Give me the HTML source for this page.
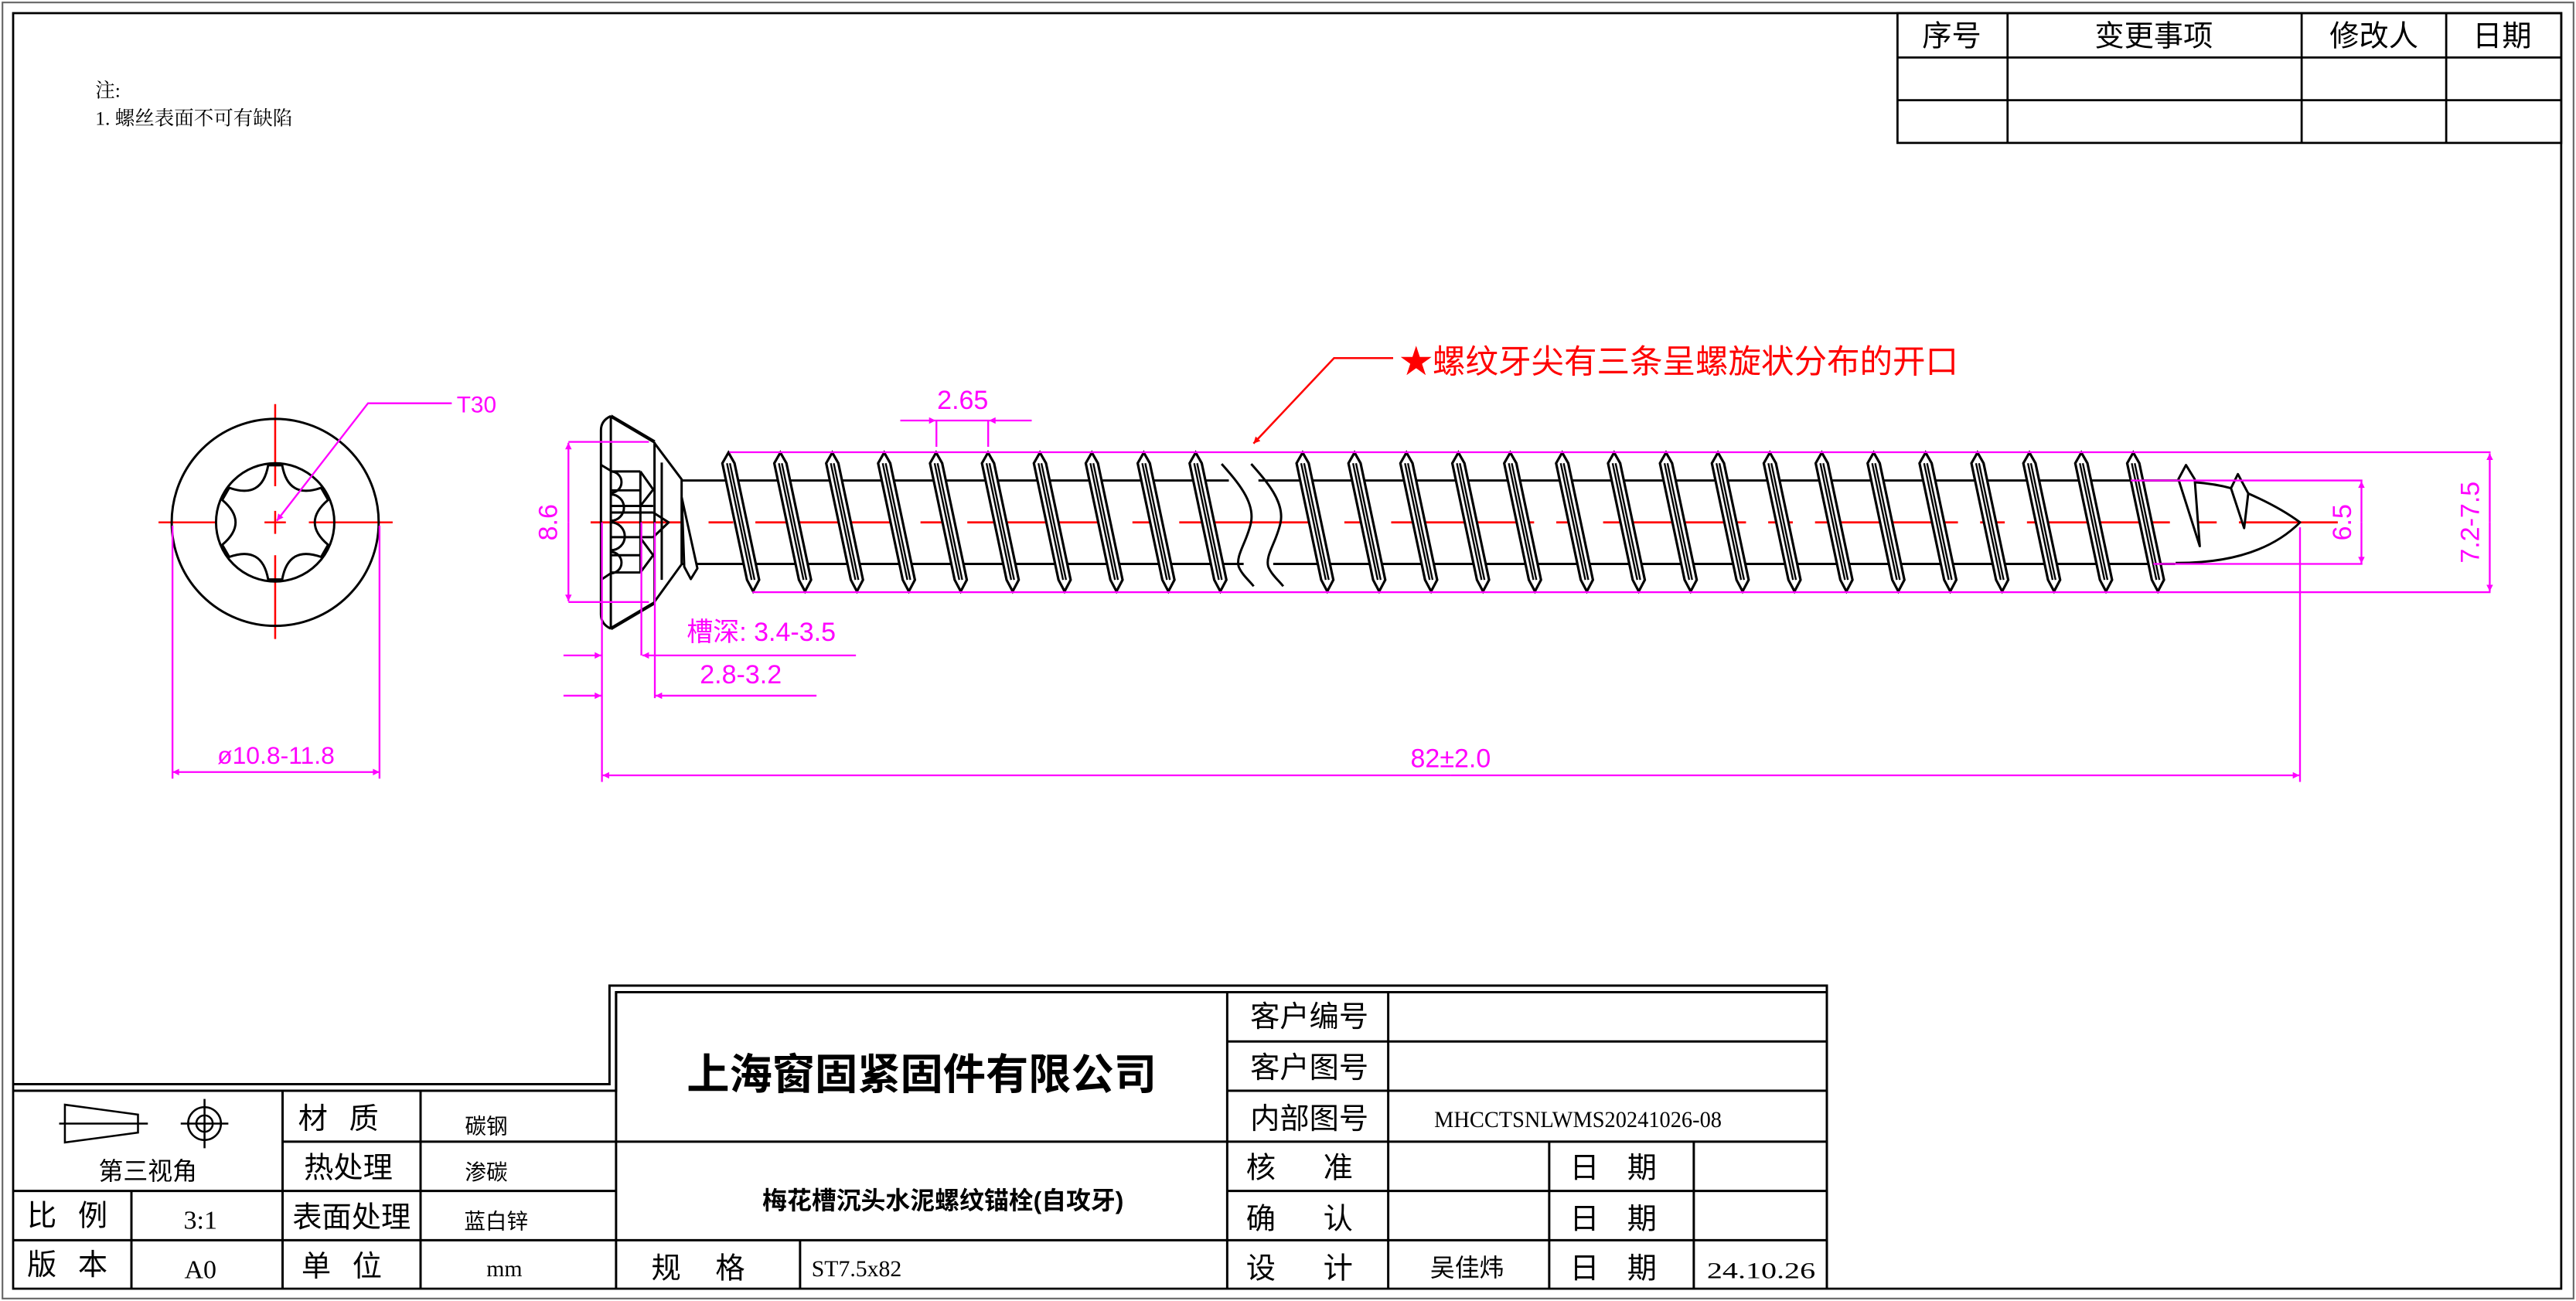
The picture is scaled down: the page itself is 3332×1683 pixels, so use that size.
<!DOCTYPE html>
<html><head><meta charset="utf-8"><style>
html,body{margin:0;padding:0;background:#fff;}
svg{display:block;}
text{font-family:"Liberation Sans","Noto Sans CJK SC",sans-serif;}
.cj{font-family:"Liberation Serif","Noto Serif CJK SC","Noto Sans CJK SC",serif;}
.m{fill:#f0f;font-family:"Liberation Sans","Noto Sans CJK SC",sans-serif;}
</style></head><body>
<svg width="3332" height="1683" viewBox="0 0 1568 792" preserveAspectRatio="none" xmlns="http://www.w3.org/2000/svg">
<defs>
<g id="th">
<polygon points="0,275.5 3.7,282 18.7,353 15,360 11.3,353 -3.7,282" fill="#fff" stroke="#000" stroke-width="1.5"/>
<line x1="-0.9" y1="282" x2="14.1" y2="353" stroke="#000" stroke-width="1.1"/>
<line x1="0.9" y1="282" x2="15.9" y2="353" stroke="#000" stroke-width="1.1"/>
</g>
<marker id="ar" viewBox="0 0 10 10" refX="10" refY="5" markerWidth="10" markerHeight="4" markerUnits="userSpaceOnUse" orient="auto"><path d="M0,0 L10,5 L0,10 Z" fill="#f0f"/></marker>
<marker id="arr" viewBox="0 0 10 10" refX="10" refY="5" markerWidth="10" markerHeight="4" markerUnits="userSpaceOnUse" orient="auto"><path d="M0,0 L10,5 L0,10 Z" fill="#f00"/></marker>
</defs>
<rect x="0" y="0" width="1568" height="792" fill="#fff"/>
<rect x="1.5" y="1.5" width="1565" height="789" fill="none" stroke="#666" stroke-width="1"/>
<rect x="8" y="8" width="1551" height="776.5" fill="none" stroke="#000" stroke-width="1.3"/>

<g stroke="#000" stroke-width="1.3" fill="none">
<rect x="1155" y="8" width="404" height="79"/>
<line x1="1155" y1="35" x2="1559" y2="35"/>
<line x1="1155" y1="61" x2="1559" y2="61"/>
<line x1="1222" y1="8" x2="1222" y2="87"/>
<line x1="1401" y1="8" x2="1401" y2="87"/>
<line x1="1489" y1="8" x2="1489" y2="87"/>
</g>
<g font-size="18" text-anchor="middle">
<text x="1188" y="28">序号</text><text x="1311" y="28">变更事项</text><text x="1445" y="28">修改人</text><text x="1523" y="28">日期</text>
</g>

<text x="58" y="59" font-size="12" class="cj">注:</text>
<text x="58" y="76" font-size="12" class="cj">1. 螺丝表面不可有缺陷</text>

<g stroke="#000" stroke-width="1.4" fill="none">
<polyline points="8,660 371,660 371,600 1112,600 1112,784"/>
<polyline points="8,664 375,664 375,604 1112,604"/>
<line x1="375" y1="604" x2="375" y2="784"/>
<line x1="375" y1="695" x2="747" y2="695"/>
<line x1="375" y1="755" x2="1112" y2="755"/>
<line x1="747" y1="604" x2="747" y2="784"/>
<line x1="845" y1="604" x2="845" y2="784"/>
<line x1="747" y1="634" x2="1112" y2="634"/>
<line x1="747" y1="664" x2="1112" y2="664"/>
<line x1="747" y1="695" x2="1112" y2="695"/>
<line x1="747" y1="725" x2="1112" y2="725"/>
<line x1="943" y1="695" x2="943" y2="784"/>
<line x1="1031" y1="695" x2="1031" y2="784"/>
<line x1="487" y1="755" x2="487" y2="784"/>
<line x1="8" y1="725" x2="375" y2="725"/>
<line x1="172" y1="695" x2="375" y2="695"/>
<line x1="8" y1="755" x2="375" y2="755"/>
<line x1="172" y1="664" x2="172" y2="784"/>
<line x1="256" y1="664" x2="256" y2="784"/>
<line x1="80" y1="725" x2="80" y2="784"/>
</g>
<g stroke="#000" stroke-width="1.2" fill="none">
<polygon points="39.5,672.5 84,678.5 84,689.5 39.5,695.5"/>
<line x1="36" y1="684" x2="90" y2="684"/>
<circle cx="124.5" cy="684" r="10"/>
<circle cx="124.5" cy="684" r="5"/>
<line x1="110" y1="684" x2="139" y2="684"/>
<line x1="124.5" y1="669" x2="124.5" y2="699"/>
</g>
<text x="90" y="718" font-size="15" text-anchor="middle">第三视角</text>
<g font-size="18" text-anchor="middle">
<text x="208" y="687" letter-spacing="4">材 质</text>
<text x="212" y="717">热处理</text>
<text x="214" y="747">表面处理</text>
<text x="210" y="777" letter-spacing="4">单 位</text>
<text x="43" y="746" letter-spacing="4">比 例</text>
<text x="43" y="776" letter-spacing="4">版 本</text>
</g>
<g font-size="13" text-anchor="middle">
<text x="296" y="690">碳钢</text>
<text x="296" y="718">渗碳</text>
<text x="302" y="748">蓝白锌</text>
</g>
<g class="cj" font-size="16" text-anchor="middle">
<text x="122" y="748" class="cj">3:1</text>
<text x="122" y="778" class="cj">A0</text>
<text x="307" y="777" class="cj" font-size="14">mm</text>
</g>
<text x="561" y="663" font-size="26" font-weight="bold" text-anchor="middle">上海窗固紧固件有限公司</text>
<text x="574" y="736" font-size="15" font-weight="bold" text-anchor="middle">梅花槽沉头水泥螺纹锚栓(自攻牙)</text>
<text x="429" y="778" font-size="18" text-anchor="middle" letter-spacing="8">规 格</text>
<text x="494" y="777" font-size="14" class="cj">ST7.5x82</text>
<g font-size="18" text-anchor="middle">
<text x="797" y="625">客户编号</text>
<text x="797" y="656">客户图号</text>
<text x="797" y="687">内部图号</text>
<text x="797" y="717" letter-spacing="12">核 准</text>
<text x="797" y="748" letter-spacing="12">确 认</text>
<text x="797" y="778" letter-spacing="12">设 计</text>
<text x="985" y="717" letter-spacing="6">日 期</text>
<text x="985" y="748" letter-spacing="6">日 期</text>
<text x="985" y="778" letter-spacing="6">日 期</text>
</g>
<text x="873" y="686" font-size="14" class="cj" textLength="175" lengthAdjust="spacingAndGlyphs">MHCCTSNLWMS20241026-08</text>
<text x="893" y="777" font-size="15" text-anchor="middle">吴佳炜</text>
<text x="1039" y="778" font-size="14" class="cj" textLength="66" lengthAdjust="spacingAndGlyphs">24.10.26</text>

<g stroke="#f00" stroke-width="1.2">
<line x1="96.5" y1="318" x2="131" y2="318"/>
<line x1="161" y1="318" x2="174" y2="318"/>
<line x1="188" y1="318" x2="239" y2="318"/>
<line x1="167.5" y1="246" x2="167.5" y2="296"/>
<line x1="167.5" y1="311" x2="167.5" y2="325"/>
<line x1="167.5" y1="338" x2="167.5" y2="389"/>
</g>
<g stroke="#000" stroke-width="1.4" fill="none">
<circle cx="167.5" cy="318" r="63"/>
<circle cx="167.5" cy="318" r="36"/>
<path transform="translate(167.5,318)" d="M-4.27,-34.74 L4.27,-34.74 Q8,-13.86 27.95,-21.06 L32.22,-13.67 Q16,0 32.22,13.67 L27.95,21.06 Q8,13.86 4.27,34.74 L-4.27,34.74 Q-8,13.86 -27.95,21.06 L-32.22,13.67 Q-16,0 -32.22,-13.67 L-27.95,-21.06 Q-8,-13.86 -4.27,-34.74 Z"/>
</g>
<g stroke="#f0f" stroke-width="1.1" fill="none">
<polyline points="275,245.5 224,245.5 168.5,317" marker-end="url(#ar)"/>
<line x1="105" y1="320" x2="105" y2="474"/>
<line x1="231" y1="320" x2="231" y2="474"/>
<line x1="168" y1="470" x2="105" y2="470" marker-end="url(#ar)"/>
<line x1="168" y1="470" x2="231" y2="470" marker-end="url(#ar)"/>
</g>
<text x="278" y="251" class="m" font-size="14">T30</text>
<text x="168" y="465" class="m" font-size="15" text-anchor="middle">ø10.8-11.8</text>

<line x1="359.5" y1="318" x2="1423" y2="318" stroke="#f00" stroke-width="1.3" stroke-dasharray="87 13.5 15 13.5" stroke-dashoffset="28.7"/>
<g stroke="#000" stroke-width="1.4" fill="none" stroke-linejoin="round">
<path d="M371.8,253.3 Q365.8,256 365.8,262 L365.8,374 Q365.8,380 371.8,382.7"/>
<line x1="371.8" y1="253.3" x2="371.8" y2="382.7"/>
<line x1="371.8" y1="253.3" x2="398.4" y2="269" stroke-width="2"/>
<line x1="371.8" y1="382.7" x2="398.4" y2="367" stroke-width="2"/>
<line x1="398.4" y1="269" x2="398.4" y2="367"/>
<line x1="402.8" y1="281.6" x2="402.8" y2="353"/>
<polyline points="398.4,269.8 414.9,291.8 414.9,343.5 398.4,366.3"/>
<line x1="365.8" y1="283" x2="372.5" y2="287"/>
<line x1="365.8" y1="353" x2="372.5" y2="348.5"/>
<line x1="371.8" y1="287" x2="389.8" y2="287"/>
<line x1="371.8" y1="298.5" x2="389.8" y2="298.5"/>
<line x1="371.8" y1="308" x2="397.6" y2="308"/>
<line x1="371.8" y1="312" x2="397.6" y2="312"/>
<line x1="371.8" y1="327" x2="397.6" y2="327"/>
<line x1="371.8" y1="338" x2="389.8" y2="338"/>
<line x1="371.8" y1="348.5" x2="389.8" y2="348.5"/>
<line x1="389.8" y1="287" x2="389.8" y2="348.5"/>
<polyline points="389.8,287 397.6,298 389.8,308"/>
<polyline points="397.6,312 407,318 397.6,327"/>
<polyline points="389.8,327.5 397.6,338 389.8,348.5"/>
<path d="M371.8,287 A6,6 0 0 1 371.8,300 M371.8,301 A8,8 0 0 1 371.8,317 M371.8,318 A8,8 0 0 1 371.8,335 M371.8,336 A6,6 0 0 1 371.8,349"/>
<line x1="414.9" y1="292.5" x2="748" y2="292.5"/>
<line x1="766" y1="292.5" x2="1330" y2="292.5"/>
<line x1="414.9" y1="343.3" x2="757" y2="343.3"/>
<line x1="775" y1="343.3" x2="1324" y2="343.3"/>
<path d="M743.6,282.4 C752,292 764,305 761.5,318 C759,330 752,338 754,345 C756,350 761,354 763.1,356.9"/>
<path d="M761.6,282.4 C770,292 782,305 779.5,318 C777,330 770,338 772,345 C774,350 779,354 781.1,356.9"/>
<polygon points="415,303 424.5,346 420.5,352.5 416.5,345" fill="#fff"/>
<path d="M1335.9,293.6 Q1348,294.5 1358,297.2"/>
<path d="M1368.5,300.4 Q1388,309 1400,318 Q1375,343 1324.3,342.7"/>
<polygon points="1330.6,283.1 1335.9,291.7 1339,332.5 1326,291.7" fill="#fff"/>
<polygon points="1362.2,288.6 1368.5,300.4 1366,321.5 1358,297.2" fill="#fff"/>
</g>
<g>
<use href="#th" x="443.4"/><use href="#th" x="475"/><use href="#th" x="506.6"/><use href="#th" x="538.2"/><use href="#th" x="569.8"/><use href="#th" x="601.4"/><use href="#th" x="633"/><use href="#th" x="664.6"/><use href="#th" x="696.2"/><use href="#th" x="727.8"/>
<use href="#th" x="792.9"/><use href="#th" x="824.5"/><use href="#th" x="856.1"/><use href="#th" x="887.7"/><use href="#th" x="919.3"/><use href="#th" x="950.9"/><use href="#th" x="982.5"/><use href="#th" x="1014.1"/><use href="#th" x="1045.7"/><use href="#th" x="1077.3"/><use href="#th" x="1108.9"/><use href="#th" x="1140.5"/><use href="#th" x="1172.1"/><use href="#th" x="1203.7"/><use href="#th" x="1235.3"/><use href="#th" x="1266.9"/><use href="#th" x="1298.5"/>
</g>

<g stroke="#f0f" stroke-width="1.1" fill="none">
<line x1="444" y1="275.3" x2="1516" y2="275.3"/>
<line x1="458" y1="360.5" x2="1516" y2="360.5"/>
<line x1="1515.5" y1="318" x2="1515.5" y2="276" marker-end="url(#ar)"/>
<line x1="1515.5" y1="318" x2="1515.5" y2="360" marker-end="url(#ar)"/>
<line x1="1297" y1="292.5" x2="1438" y2="292.5"/>
<line x1="1310.7" y1="343.3" x2="1438" y2="343.3"/>
<line x1="1437.4" y1="318" x2="1437.4" y2="293" marker-end="url(#ar)"/>
<line x1="1437.4" y1="318" x2="1437.4" y2="343" marker-end="url(#ar)"/>
<line x1="1400" y1="321" x2="1400" y2="476"/>
<line x1="366.4" y1="318" x2="366.4" y2="476"/>
<line x1="883" y1="472" x2="366.8" y2="472" marker-end="url(#ar)"/>
<line x1="883" y1="472" x2="1399.6" y2="472" marker-end="url(#ar)"/>
<line x1="390.4" y1="318" x2="390.4" y2="399"/>
<line x1="398.6" y1="318" x2="398.6" y2="425"/>
<line x1="343" y1="399" x2="366" y2="399" marker-end="url(#ar)"/>
<line x1="521" y1="399" x2="391" y2="399" marker-end="url(#ar)"/>
<line x1="343" y1="423.5" x2="366" y2="423.5" marker-end="url(#ar)"/>
<line x1="497" y1="423.5" x2="399" y2="423.5" marker-end="url(#ar)"/>
<line x1="346" y1="269" x2="395" y2="269"/>
<line x1="346" y1="366.5" x2="395" y2="366.5"/>
<line x1="346" y1="318" x2="346" y2="269.5" marker-end="url(#ar)"/>
<line x1="346" y1="318" x2="346" y2="366" marker-end="url(#ar)"/>
<line x1="570" y1="256" x2="570" y2="272"/>
<line x1="601.5" y1="256" x2="601.5" y2="272"/>
<line x1="548" y1="256" x2="569.5" y2="256" marker-end="url(#ar)"/>
<line x1="628" y1="256" x2="602" y2="256" marker-end="url(#ar)"/>
<line x1="569.5" y1="256" x2="602" y2="256"/>
</g>
<g class="m" font-size="16">
<text x="586" y="249" text-anchor="middle">2.65</text>
<text x="883" y="467" text-anchor="middle">82±2.0</text>
<text x="418" y="390" font-size="16">槽深: 3.4-3.5</text>
<text x="426" y="416">2.8-3.2</text>
<text transform="translate(339,318) rotate(-90)" text-anchor="middle">8.6</text>
<text transform="translate(1431,318) rotate(-90)" text-anchor="middle">6.5</text>
<text transform="translate(1509,318) rotate(-90)" text-anchor="middle">7.2-7.5</text>
</g>

<polyline points="848,218 812,218 763,270" fill="none" stroke="#f00" stroke-width="1.2" marker-end="url(#arr)"/>
<text x="852" y="227" font-size="20" fill="#f00">★螺纹牙尖有三条呈螺旋状分布的开口</text>
</svg>
</body></html>
